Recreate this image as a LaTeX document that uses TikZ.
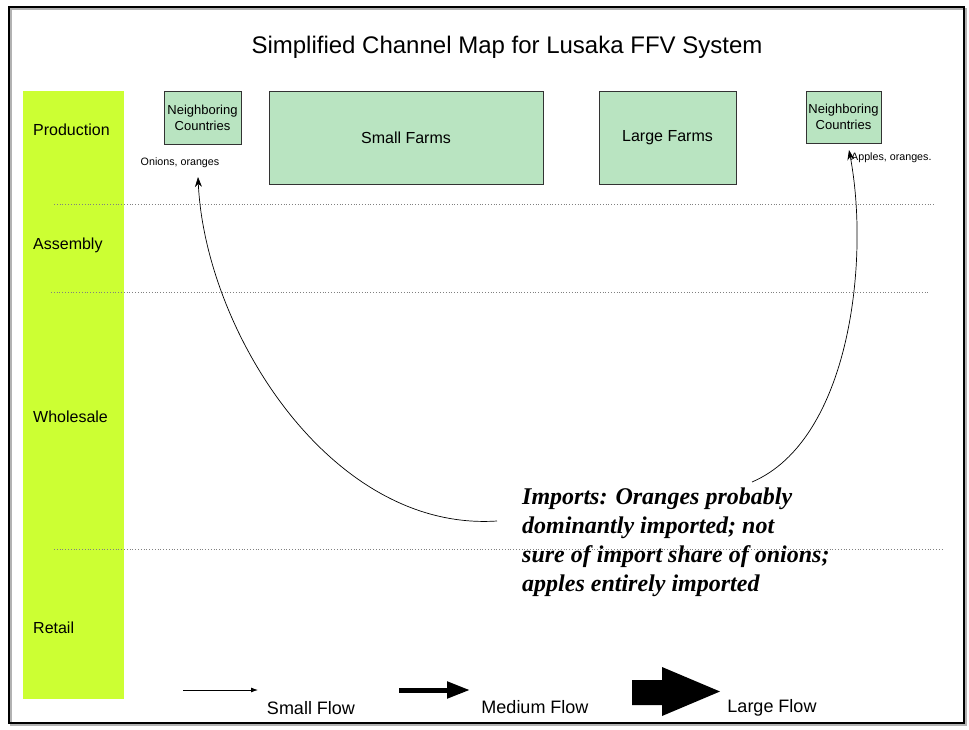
\documentclass[tikz,border=0pt]{standalone}
\usepackage{fontspec}
\setmainfont{Liberation Sans}
\newfontfamily\notefont{Liberation Serif}
\usetikzlibrary{arrows.meta}
\definecolor{barlime}{HTML}{CCFF33}
\definecolor{boxgreen}{HTML}{B9E4C1}
\begin{document}
\begin{tikzpicture}[x=1pt,y=-1pt,
  farmbox/.style={draw=black!80,fill=boxgreen,line width=0.8pt,inner sep=0pt,align=center},
  stagelabel/.style={anchor=west,font=\fontsize{16}{18}\selectfont,inner sep=0pt},
  smalllabel/.style={font=\fontsize{10.7}{12}\selectfont,inner sep=0pt},
  divider/.style={gray,dotted,line width=0.8pt},
  importarrow/.style={line width=0.7pt,-{Stealth[length=10pt,width=7pt]}},
  legendlabel/.style={font=\fontsize{18}{20}\selectfont,inner sep=0pt}]
\useasboundingbox (0,0) rectangle (969,730);
% frame
\draw[gray!60,line width=2pt] (11,9) rectangle (966,725);
\draw[black,line width=2.6pt] (9,7) rectangle (964,723);
% title
\node[font=\fontsize{24}{28}\selectfont,inner sep=0pt] (title) at (507,47) {Simplified Channel Map for Lusaka FFV System};
% stage bar
\fill[barlime] (23,91) rectangle (124,699);
\node[stagelabel] (prod) at (33,130) {Production};
\node[stagelabel] (asm) at (33,245) {Assembly};
\node[stagelabel] (whs) at (33,417) {Wholesale};
\node[stagelabel] (ret) at (33,628) {Retail};
% dividers
\draw[divider] (54,204) -- (935,204);
\draw[divider] (51,292) -- (930,292);
\draw[divider] (54,549) -- (943,549);
% production boxes
\node[farmbox,minimum width=77pt,minimum height=53pt,font=\fontsize{13}{16}\selectfont] (nbl) at (202.5,117.5) {Neighboring\\Countries};
\node[farmbox,minimum width=274pt,minimum height=93pt,font=\fontsize{16}{18}\selectfont] (small) at (406,137.5) {Small Farms};
\node[farmbox,minimum width=137pt,minimum height=93pt,font=\fontsize{16}{18}\selectfont] (large) at (667.5,137.5) {Large Farms};
\node[farmbox,minimum width=75pt,minimum height=52pt,font=\fontsize{13}{16}\selectfont] (nbr) at (843.5,117) {Neighboring\\Countries};
\node[smalllabel] (onions) at (180,163) {Onions, oranges};
\node[smalllabel,anchor=west] (apples) at (851,158) {Apples, oranges.};
% note
\node[anchor=north west,align=left,inner sep=0pt,font=\notefont\bfseries\itshape\fontsize{24}{29}\selectfont] (note) at (522,488)
 {Imports: Oranges probably\\dominantly imported; not\\sure of import share of onions;\\apples entirely imported};
\coordinate (lstart) at (497,521);
\coordinate (ltip) at (198,177);
\coordinate (rstart) at (752,482);
\coordinate (rtip) at (849,150);
\draw[importarrow] (lstart) .. controls (330,532) and (205,330) .. (ltip);
\draw[importarrow] (rstart) .. controls (850,440) and (870,260) .. (rtip);
% legend
\coordinate (s1) at (183,690); \coordinate (s2) at (258,690);
\draw[line width=0.8pt,-{Latex[length=7pt,width=5pt]}] (s1) -- (s2);
\node[legendlabel] (smallflow) at (311,708) {Small Flow};
\coordinate (m1) at (399,690); \coordinate (m2) at (470,690);
\draw[line width=5pt,-{Triangle[length=23pt,width=16pt]}] (m1) -- (m2);
\node[legendlabel] (medflow) at (535,707) {Medium Flow};
\fill[black] (632,680) -- (662,680) -- (662,667) -- (720,691.5) -- (662,716) -- (662,705) -- (632,705) -- cycle;
\node[legendlabel] (largeflow) at (772,708) {Large Flow};
\end{tikzpicture}
\end{document}
